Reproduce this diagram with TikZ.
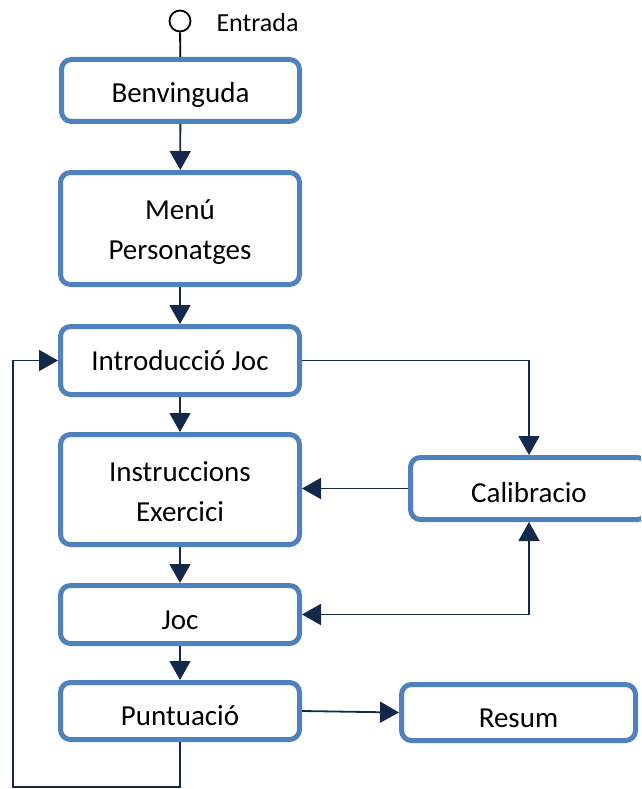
\documentclass[tikz,border=0pt]{standalone}
\usepackage{fontspec}
\setmainfont{Carlito}
\usetikzlibrary{arrows.meta}
\definecolor{boxblue}{HTML}{4F81BD}
\definecolor{linknavy}{HTML}{14284B}
\newcommand{\twolines}[3]{\raisebox{#1}[0pt][0pt]{\begin{tabular}{@{}c@{}}#2\\#3\end{tabular}}}
\tikzset{
  stage/.style={draw=boxblue, line width=5pt, rounded corners=10pt, fill=white,
    inner sep=0pt, text depth=0pt, font=\fontsize{29}{40}\selectfont},
  link/.style={draw=linknavy, line width=1.8pt,
    -{Triangle[length=19pt,width=21pt]}},
  bothlink/.style={draw=linknavy, line width=1.8pt,
    {Triangle[length=19pt,width=21pt]}-{Triangle[length=19pt,width=21pt]}},
}
\begin{document}
\begin{tikzpicture}[x=1pt,y=-1pt]
\clip (0,0) rectangle (641,789);
\fill[white] (0,0) rectangle (641,789);

% start marker
\node[draw=black, line width=1.8pt, circle, minimum size=21pt, inner sep=0pt] (start) at (180,21) {};
\node[anchor=west, font=\fontsize{26}{30}\selectfont] (startlbl) at (213,23) {Entrada};

% stages
\node[stage, minimum width=238pt, minimum height=62pt, text height=23.7pt] (benv) at (180.5,90.5) {Benvinguda};
\node[stage, minimum width=239pt, minimum height=112pt, text height=0pt] (menu) at (180,228.5) {\twolines{-9.1pt}{Menú}{Personatges}};
\node[stage, minimum width=239pt, minimum height=68pt, text height=19.7pt] (intro) at (180,360.5) {Introducció Joc};
\node[stage, minimum width=239pt, minimum height=110pt, text height=0pt] (instr) at (180,489.5) {\twolines{-10.6pt}{Instruccions}{Exercici}};
\node[stage, minimum width=239pt, minimum height=58pt, text height=30.7pt] (joc) at (180,614.5) {Joc};
\node[stage, minimum width=239pt, minimum height=57pt, text height=28.7pt] (punt) at (180,711) {Puntuació};
\node[stage, minimum width=237pt, minimum height=62pt, text height=27.7pt] (calib) at (529,488.5) {Calibracio};
\node[stage, minimum width=234pt, minimum height=56pt, text height=29.7pt] (resum) at (518.5,712.5) {Resum};

% corner of the loop back to the game introduction
\coordinate (loopbottom) at (13,787);

% connectors
\draw[line width=1.8pt, black] (start) -- (benv);
\draw[link] (benv) -- (menu);
\draw[link] (menu) -- (intro);
\draw[link] (intro) -- (instr);
\draw[link] (instr) -- (joc);
\draw[link] (joc) -- (punt);
\draw[link] (intro.east) -| (calib.north);
\draw[link] (calib.west) -- (instr.east |- calib.west);
\draw[bothlink] (joc.east) -| (calib.south);
\draw[link] (punt.east) -- (resum.west);
\draw[link] (punt.south) |- (loopbottom) |- (intro.west);
\end{tikzpicture}
\end{document}
